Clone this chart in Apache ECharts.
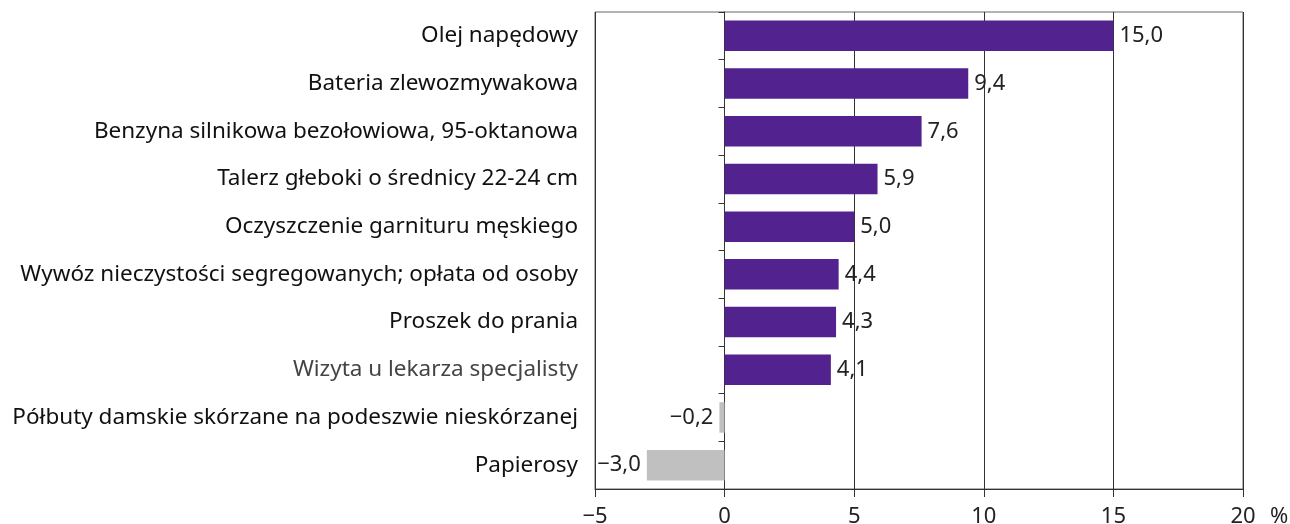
<!DOCTYPE html>
<html><head><meta charset="utf-8">
<script src="https://cdn.jsdelivr.net/npm/echarts@6/dist/echarts.min.js"></script>
<style>html,body{margin:0;padding:0;background:#fff}#c{width:1290px;height:524px}</style>
</head><body><div id="c"></div>
<script>
const categories = [
  "Olej napędowy",
  "Bateria zlewozmywakowa",
  "Benzyna silnikowa bezołowiowa, 95-oktanowa",
  "Talerz głeboki o średnicy 22-24 cm",
  "Oczyszczenie garnituru męskiego",
  "Wywóz nieczystości segregowanych; opłata od osoby",
  "Proszek do prania",
  "Wizyta u lekarza specjalisty",
  "Półbuty damskie skórzane na podeszwie nieskórzanej",
  "Papierosy"
];
const values = [15.0, 9.4, 7.6, 5.9, 5.0, 4.4, 4.3, 4.1, -0.2, -3.0];
const xTicks = { min: -5, max: 20, interval: 5 };
const unitLabel = "%";

const FONT = "Noto Sans";
const fmt = v => (v < 0 ? "\u2212" : "") + Math.abs(v).toFixed(1).replace(".", ",");

const chart = echarts.init(document.getElementById('c'), null, {renderer: 'canvas'});
chart.setOption({
  animation: false,
  grid: { left: 595, right: 47, top: 12, bottom: 35, show: true, borderColor: '#666', borderWidth: 1,
    containLabel: false, outerBoundsMode: 'none' },
  xAxis: {
    type: 'value', min: xTicks.min, max: xTicks.max, interval: xTicks.interval,
    axisLine: { show: true, onZero: false, lineStyle: { color: '#333', width: 1 } },
    axisTick: { show: true, length: 8, lineStyle: { color: '#333' } },
    splitLine: { show: true, lineStyle: { color: '#333', width: 1 } },
    axisLabel: { margin: 17, fontFamily: FONT, fontSize: 22, color: '#222',
      formatter: v => (v < 0 ? "\u2212" : "") + Math.abs(v) },
    name: unitLabel, nameLocation: 'end', nameGap: 27,
    nameTextStyle: { fontFamily: FONT, fontSize: 22, color: '#222', verticalAlign: 'top', padding: [17, 0, 0, 0] }
  },
  yAxis: [
    {
      type: 'category', data: categories, inverse: true, position: 'left',
      axisLine: { show: false, onZero: false }, axisTick: { show: false },
      axisLabel: { margin: 17, fontFamily: FONT, fontSize: 22.5,
        color: (val) => val === "Wizyta u lekarza specjalisty" ? '#444' : '#111' }
    },
    {
      type: 'category', data: categories, inverse: true, position: 'left',
      axisLine: { show: true, onZero: true, lineStyle: { color: '#333', width: 1 } },
      axisTick: { show: true, length: 6, lineStyle: { color: '#333' } },
      axisLabel: { show: false }
    }
  ],
  series: [{
    type: 'bar', yAxisIndex: 0, barWidth: '64%',
    data: values.map(v => ({ value: v, itemStyle: { color: v < 0 ? '#c0c0c0' : '#52238f' },
      label: { position: v < 0 ? 'left' : 'right' } })),
    label: { show: true, distance: 6, fontFamily: FONT, fontSize: 22, color: '#222',
      formatter: p => fmt(p.value) }
  }]
});
</script></body></html>
